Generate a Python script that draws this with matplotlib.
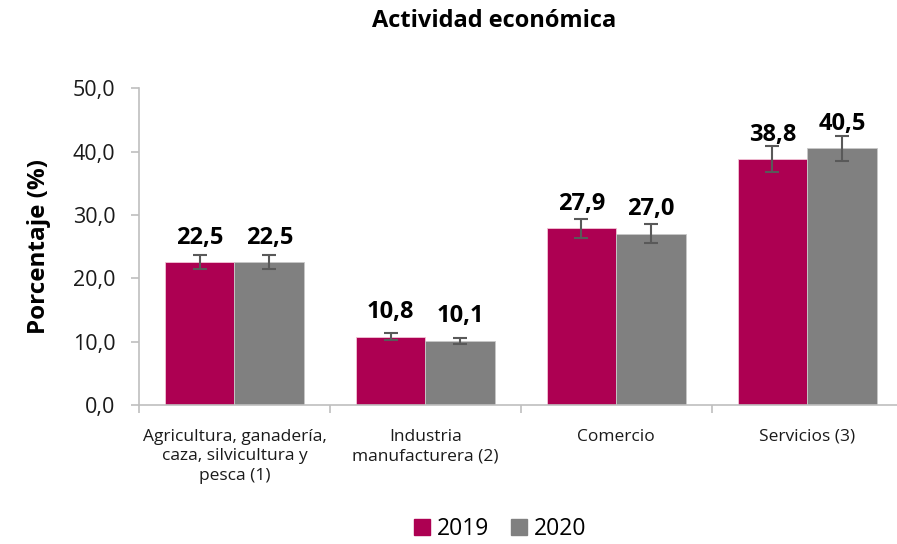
import matplotlib
matplotlib.use("Agg")
import matplotlib.pyplot as plt
import numpy as np
from matplotlib.patches import Patch

categories = ["Agricultura, ganadería,\ncaza, silvicultura y\npesca (1)",
              "Industria\nmanufacturera (2)", "Comercio", "Servicios (3)"]
years = ["2019", "2020"]
v2019 = [22.5, 10.8, 27.9, 38.8]
v2020 = [22.5, 10.1, 27.0, 40.5]
e2019 = [1.1, 0.6, 1.5, 2.0]
e2020 = [1.1, 0.5, 1.5, 2.0]
yticks = [0, 10, 20, 30, 40, 50]

col19 = "#AD0052"
col20 = "#808080"
FONT = "Open Sans"
plt.rcParams['font.family'] = [FONT, 'DejaVu Sans']

fig = plt.figure(figsize=(8.97, 5.44), dpi=100)
ax = fig.add_axes([0.155, 0.2555, 0.845, 0.5825])

x = np.arange(len(categories))
w = 0.365
ax.bar(x - w/2, v2019, w, color=col19, edgecolor="#f2c4d6", linewidth=0.6,
       yerr=e2019, error_kw=dict(ecolor="#595959", elinewidth=1.5, capsize=5, capthick=1.5))
ax.bar(x + w/2, v2020, w, color=col20, edgecolor="#c8c8c8", linewidth=0.6,
       yerr=e2020, error_kw=dict(ecolor="#595959", elinewidth=1.5, capsize=5, capthick=1.5))

for xs, vals in ((x - w/2, v2019), (x + w/2, v2020)):
    for xi, v in zip(xs, vals):
        ax.annotate(f"{v:.1f}".replace(".", ","), (xi, v), xytext=(0, 9),
                    textcoords="offset points", ha="center", va="bottom",
                    fontsize=17, fontweight="bold", color="black")

ax.set_ylim(0, 50)
ax.set_xlim(-0.5, 3.47)
ax.set_yticks(yticks)
ax.set_yticklabels([f"{t:.1f}".replace(".", ",") for t in yticks], fontsize=15.5, color="#1a1a1a")
ax.set_xticks(x)
ax.set_xticklabels(categories, fontsize=12.5, color="#1a1a1a", linespacing=1.3)
ax.tick_params(axis="x", length=0, pad=17)
ax.set_xticks([-0.5, 0.5, 1.5, 2.5], minor=True)
ax.tick_params(axis="x", which="minor", length=6, color="#bfbfbf", width=1.2)
ax.tick_params(axis="y", length=6, color="#bfbfbf", width=1.2, pad=11)

for s in ("top", "right"):
    ax.spines[s].set_visible(False)
for s in ("left", "bottom"):
    ax.spines[s].set_color("#bfbfbf")
    ax.spines[s].set_linewidth(1.2)

ax.set_ylabel("Porcentaje (%)", fontsize=17.5, fontweight="bold", labelpad=16)
fig.text(0.551, 0.962, "Actividad económica", ha="center", va="center",
         fontsize=17, fontweight="bold")

handles = [Patch(color=col19), Patch(color=col20)]
fig.legend(handles, years, loc="center", bbox_to_anchor=(0.558, 0.027), ncol=2,
           frameon=False, fontsize=16.5, handlelength=0.7, handleheight=0.7,
           handletextpad=0.3, columnspacing=0.95)

fig.savefig("out.png", dpi=100)
